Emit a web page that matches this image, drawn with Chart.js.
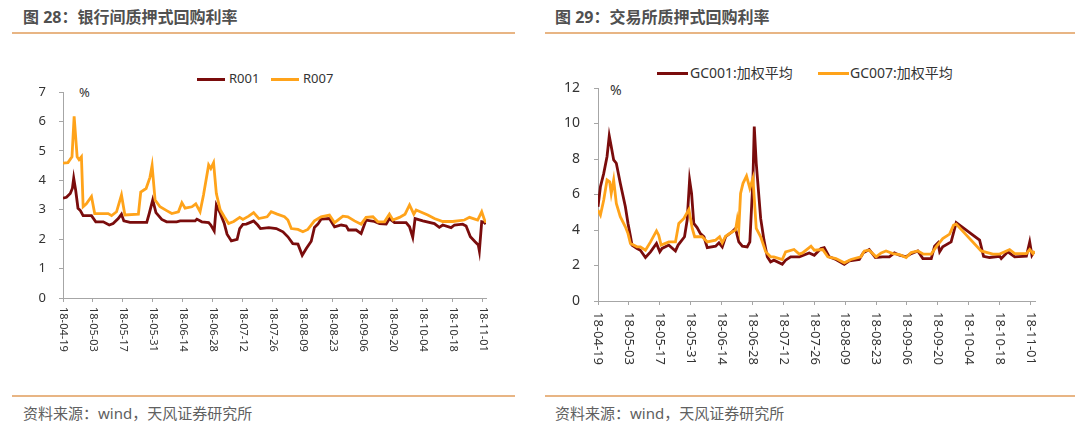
<!DOCTYPE html>
<html>
<head>
<meta charset="utf-8">
<script src="https://cdn.jsdelivr.net/npm/chart.js@4.4.1/dist/chart.umd.min.js"></script>
<style>
  body { margin: 0; background: #fff; width: 1080px; height: 439px; overflow: hidden; position: relative;
         font-family: "Noto Sans", "Noto Sans CJK SC", sans-serif; }
  .abs { position: absolute; white-space: nowrap; }
  .title { font-size: 16px; line-height: 16px; font-weight: bold; color: #505050; }
  .rule { height: 2px; background: #e8b584; }
  .src { font-size: 15px; line-height: 15px; color: #606060; }
  .key { height: 3px; }
  .lbl { color: #333; }
  canvas { position: absolute; top: 0; }
</style>
</head>
<body>
<div class="abs title" style="left:23px;top:9px">图 28：银行间质押式回购利率</div>
<div class="abs title" style="left:555px;top:9px">图 29：交易所质押式回购利率</div>
<div class="abs rule" style="left:12px;top:32px;width:503px"></div>
<div class="abs rule" style="left:545px;top:32px;width:530px"></div>

<div class="abs key" style="left:197px;top:78px;width:28px;background:#7a0c0c"></div>
<div class="abs lbl" style="left:229px;top:71px;font-size:13px;line-height:15px">R001</div>
<div class="abs key" style="left:271px;top:78px;width:28px;background:#ffa31a"></div>
<div class="abs lbl" style="left:303px;top:71px;font-size:13px;line-height:15px">R007</div>
<div class="abs lbl" style="left:79px;top:85px;font-size:13px;line-height:15px">%</div>

<div class="abs key" style="left:657px;top:72px;width:31px;background:#7a0c0c"></div>
<div class="abs lbl" style="left:690px;top:65px;font-size:14px;line-height:16px">GC001:加权平均</div>
<div class="abs key" style="left:818px;top:72px;width:31px;background:#ffa31a"></div>
<div class="abs lbl" style="left:850px;top:65px;font-size:14px;line-height:16px">GC007:加权平均</div>
<div class="abs lbl" style="left:610px;top:82px;font-size:14px;line-height:16px">%</div>

<canvas id="leftChart" width="540" height="390" style="left:0"></canvas>
<canvas id="rightChart" width="540" height="390" style="left:540px"></canvas>

<div class="abs rule" style="left:12px;top:395px;width:503px"></div>
<div class="abs rule" style="left:545px;top:395px;width:530px"></div>
<div class="abs src" style="left:23px;top:406px">资料来源：wind，天风证券研究所</div>
<div class="abs src" style="left:555px;top:406px">资料来源：wind，天风证券研究所</div>

<script>
// x values are days counted from 2018-04-19
const tickDays = [0, 14, 28, 42, 56, 70, 84, 98, 112, 126, 140, 154, 168, 182, 196];
const tickLabels = ['18-04-19', '18-05-03', '18-05-17', '18-05-31', '18-06-14', '18-06-28', '18-07-12',
  '18-07-26', '18-08-09', '18-08-23', '18-09-06', '18-09-20', '18-10-04', '18-10-18', '18-11-01'];

// 图 28 interbank
const r001Days = [0, 1.6, 3.4, 4.4, 5, 5.9, 7, 8.1, 9.4, 13.3, 15.3, 18.8, 21.6, 23.4, 25.8, 27.3, 28.4, 31.3,
  39.1, 40.3, 41.9, 43.4, 46.1, 48.4, 53.1, 54.7, 61.7, 62.5, 64.8, 68, 69, 70.6, 71.6, 73.4, 75.3, 76.6,
  78.6, 81.3, 82.5, 84, 85.6, 87.5, 89, 90.9, 92.2, 96.1, 99.6, 102.7, 105, 107.3, 109.7, 111.7, 113.6,
  115.9, 117.4, 119, 120.5, 124.4, 126.8, 129.9, 132.2, 133.3, 136.9, 139.2, 141.5, 145.4, 147.8, 150.9,
  152.4, 154.8, 160.2, 161.8, 163.3, 164.4, 168, 173.4, 175.7, 177.3, 181.2, 182.8, 186.6, 188.2, 190.2,
  192.4, 193.9, 194.4, 195.5, 196.8, 197.4];
const r001Values = [3.39, 3.42, 3.55, 3.73, 4.07, 3.67, 3.05, 2.97, 2.8, 2.8, 2.59, 2.59, 2.48, 2.53, 2.7, 2.85,
  2.62, 2.57, 2.57, 2.88, 3.33, 2.9, 2.67, 2.59, 2.59, 2.62, 2.62, 2.68, 2.59, 2.56, 2.48, 2.28, 3.16, 2.88,
  2.53, 2.17, 1.94, 1.99, 2.36, 2.5, 2.51, 2.57, 2.62, 2.48, 2.36, 2.39, 2.36, 2.25, 2.08, 1.85, 1.83, 1.45,
  1.68, 1.93, 2.4, 2.51, 2.68, 2.7, 2.42, 2.48, 2.45, 2.31, 2.31, 2.19, 2.65, 2.6, 2.53, 2.51, 2.7, 2.56,
  2.56, 2.42, 2.06, 2.7, 2.62, 2.53, 2.4, 2.48, 2.39, 2.48, 2.51, 2.45, 2.08, 1.91, 1.8, 1.6, 2.59, 2.57, 2.51];

const r007Days = [0, 2.3, 4.2, 5.2, 6.6, 7.5, 8.6, 9.4, 10.9, 13.3, 14.8, 21.1, 22.7, 25, 27.3, 28.9, 35.2,
  36.3, 38.8, 40.6, 41.6, 43, 45.3, 48.4, 50.8, 53.9, 55.5, 57, 60.2, 62, 64, 65.6, 68, 69, 70.3, 71.6, 73.4,
  75.3, 77.3, 79.7, 82.5, 84, 86.7, 89, 91.4, 95.3, 97.2, 100, 103.4, 105, 106.6, 109.7, 112, 114.3, 117.4,
  120.5, 124.4, 126.8, 130.7, 133, 136.1, 139.2, 141.5, 144.7, 147, 150.1, 152.4, 154, 157.1, 159.7, 161.8,
  163.8, 164.9, 170.3, 173.4, 177.3, 182, 187.4, 189.8, 193.6, 195.5, 196.8, 197.5];
const r007Values = [4.58, 4.6, 4.8, 6.17, 4.8, 4.7, 4.8, 3.1, 3.2, 3.45, 2.87, 2.87, 2.8, 2.93, 3.5, 2.82, 2.85,
  3.6, 3.72, 4.1, 4.5, 3.33, 3.1, 2.97, 2.87, 2.93, 3.24, 3.05, 3.1, 3.2, 2.93, 3.5, 4.52, 4.4, 4.6, 3.55,
  3.0, 2.76, 2.53, 2.6, 2.74, 2.67, 2.78, 2.9, 2.7, 2.76, 2.93, 2.85, 2.76, 2.65, 2.36, 2.33, 2.25, 2.33,
  2.62, 2.76, 2.82, 2.56, 2.78, 2.76, 2.62, 2.51, 2.74, 2.76, 2.59, 2.59, 2.85, 2.65, 2.74, 2.85, 3.16,
  2.85, 2.99, 2.82, 2.7, 2.6, 2.6, 2.65, 2.74, 2.65, 2.93, 2.65, 2.56];

// 图 29 exchange
const gc001Days = [0, 1.1, 2.6, 4.1, 5.1, 6, 7.1, 8.3, 10.1, 12.4, 13.6, 14.7, 15.4, 17.7, 19.2, 21.5, 23.8,
  26.5, 28, 29, 32.1, 35.1, 36.3, 39.2, 40.4, 41.5, 42.4, 43.4, 44.9, 46.4, 48, 49.5, 53.3, 54.8, 56.3,
  57.8, 60.8, 62.3, 63.8, 65.4, 67.6, 68.8, 70.2, 70.8, 71.7, 73.7, 75.2, 76.7, 78.2, 79.7, 83.5, 85, 87.3,
  91.2, 95.7, 98, 101, 102.5, 104.8, 107.8, 111.6, 113.9, 118.4, 120.2, 122.9, 125.7, 129, 132, 134.3,
  136.6, 139.6, 141.9, 144.9, 147.2, 151, 152.5, 154, 154.8, 156.2, 160, 162.3, 172.9, 174.7, 177.4, 182,
  182.7, 185.7, 188.8, 194.1, 195.6, 196.6, 197.5];
const gc001Values = [5.31, 6.44, 7.19, 8.14, 9.3, 8.7, 7.95, 7.76, 6.63, 5.31, 4.37, 3.65, 3.15, 2.96, 2.86,
  2.45, 2.77, 3.24, 2.77, 2.96, 3.15, 2.82, 3.15, 3.62, 4.56, 6.82, 6.06, 4.37, 4.14, 3.8, 3.62, 3.01, 3.09,
  3.28, 3.05, 3.62, 3.9, 4.09, 3.33, 3.09, 3.05, 3.33, 6.82, 9.83, 7.76, 4.65, 3.43, 2.49, 2.2, 2.3, 2.07,
  2.3, 2.49, 2.49, 2.71, 2.58, 2.96, 3.01, 2.49, 2.34, 2.07, 2.26, 2.34, 2.71, 2.9, 2.45, 2.49, 2.49, 2.71,
  2.58, 2.49, 2.67, 2.82, 2.39, 2.39, 3.09, 3.28, 2.77, 3.05, 3.33, 4.41, 3.43, 2.52, 2.45, 2.52, 2.39,
  2.77, 2.49, 2.52, 3.33, 2.58, 2.77];

const gc007Days = [0, 1.1, 2.6, 4.1, 5.3, 6, 7.1, 8.3, 10.1, 12.4, 13.6, 14.7, 17.7, 19.2, 21.5, 23.8, 26.5,
  27.5, 28.6, 32.1, 35.1, 36.6, 38.9, 41.2, 42.7, 43.8, 47.2, 49.5, 53.3, 55.1, 56.3, 57.8, 60.8, 62.3,
  63.1, 63.8, 64.6, 65.7, 67.3, 68.8, 70.2, 71.7, 73.7, 76, 78.2, 79.7, 83.5, 85, 88.8, 91.2, 92.7, 96.5,
  98, 101.8, 104.1, 107.8, 111.6, 114.6, 119.1, 120.7, 122.9, 126, 128.3, 130.5, 133.6, 136.6, 139.6,
  141.9, 144.9, 147.5, 151, 153.2, 156.2, 159.3, 161.1, 162.3, 173.6, 178.9, 182, 186.5, 188.8, 194.1,
  195.6, 197.1, 197.8];
const gc007Values = [5.12, 4.84, 5.69, 6.82, 6.72, 6.06, 6.82, 5.5, 4.75, 4.18, 3.8, 3.24, 3.05, 3.05, 2.86,
  3.33, 3.95, 3.71, 3.15, 3.33, 3.33, 4.37, 4.65, 5.16, 4.09, 3.62, 3.62, 3.33, 3.43, 3.62, 3.28, 3.65, 3.9,
  3.99, 4.6, 4.09, 6.06, 6.63, 7.04, 6.35, 6.91, 4.09, 3.62, 2.77, 2.49, 2.49, 2.34, 2.77, 2.9, 2.64, 2.71,
  3.09, 2.86, 2.9, 2.49, 2.39, 2.15, 2.34, 2.49, 2.82, 2.86, 2.49, 2.71, 2.82, 2.67, 2.62, 2.45, 2.73,
  2.82, 2.64, 2.64, 3.05, 3.52, 3.77, 4.27, 4.33, 2.82, 2.64, 2.64, 2.9, 2.67, 2.67, 2.9, 2.67, 2.82];

const DARK_RED = '#7a0c0c';
const ORANGE = '#ffa31a';
const AXIS = '#a6a6a6';
const FONT = '"Noto Sans", "Noto Sans CJK SC", sans-serif';

function toPoints(days, values) {
  return days.map((d, i) => ({ x: d, y: values[i] }));
}

// tick labels read top to bottom, so draw them ourselves
const rotatedTicks = {
  id: 'rotatedTicks',
  afterDraw(chart, args, opts) {
    const s = chart.scales.x;
    const ctx = chart.ctx;
    ctx.save();
    ctx.fillStyle = '#333';
    ctx.font = opts.size + 'px ' + FONT;
    ctx.textAlign = 'left';
    ctx.textBaseline = 'middle';
    tickDays.forEach((d, i) => {
      ctx.save();
      ctx.translate(s.getPixelForValue(d), s.top + opts.offset);
      ctx.rotate(Math.PI / 2);
      ctx.fillText(tickLabels[i], 0, 0);
      ctx.restore();
    });
    ctx.restore();
  }
};

function makeChart(id, cfg) {
  return new Chart(document.getElementById(id), {
    type: 'line',
    data: {
      datasets: [
        { data: toPoints(cfg.redDays, cfg.redValues), borderColor: DARK_RED, borderWidth: 2.8, order: 1 },
        { data: toPoints(cfg.orangeDays, cfg.orangeValues), borderColor: ORANGE, borderWidth: 2.8, order: 0 }
      ]
    },
    options: {
      responsive: false,
      animation: false,
      parsing: false,
      elements: { point: { radius: 0 }, line: { tension: 0 } },
      layout: { padding: { left: 0, right: cfg.padRight, top: cfg.padTop, bottom: cfg.padBottom } },
      plugins: {
        legend: { display: false },
        tooltip: { enabled: false },
        rotatedTicks: { size: cfg.xFont, offset: cfg.xOffset }
      },
      scales: {
        x: {
          type: 'linear', min: 0, max: cfg.xMax,
          afterBuildTicks: s => { s.ticks = tickDays.map(v => ({ value: v })); },
          afterFit: s => { s.height = 20; },
          ticks: { display: false },
          grid: { drawOnChartArea: false, drawTicks: true, tickLength: 4, color: AXIS },
          border: { color: AXIS, width: 1 }
        },
        y: {
          min: 0, max: cfg.yMax,
          afterFit: s => { s.width = cfg.yWidth; },
          ticks: { stepSize: cfg.yStep, padding: cfg.yPad, color: '#333', font: { family: FONT, size: cfg.yFont } },
          grid: { drawOnChartArea: false, drawTicks: true, tickLength: 4, color: AXIS },
          border: { color: AXIS, width: 1 }
        }
      }
    },
    plugins: [rotatedTicks]
  });
}

makeChart('leftChart', {
  redDays: r001Days, redValues: r001Values, orangeDays: r007Days, orangeValues: r007Values,
  xMax: 197.5, yMax: 7, yStep: 1, yWidth: 63, yPad: 13, yFont: 13, xFont: 11, xOffset: 9,
  padTop: 92, padRight: 54, padBottom: 72
});

makeChart('rightChart', {
  redDays: gc001Days, redValues: gc001Values, orangeDays: gc007Days, orangeValues: gc007Values,
  xMax: 198, yMax: 12, yStep: 2, yWidth: 58, yPad: 14, yFont: 14, xFont: 13, xOffset: 11,
  padTop: 88, padRight: 45, padBottom: 69
});
</script>
</body>
</html>
